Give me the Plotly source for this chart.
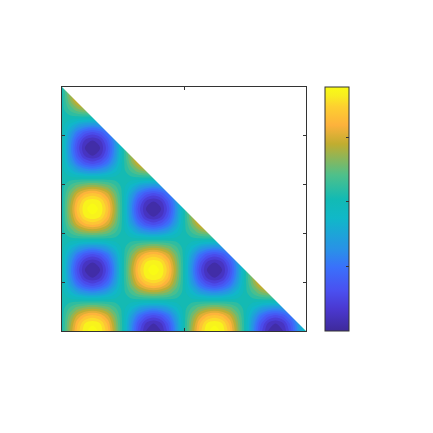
"""Triangular field with filled contours and a colorbar (no tick labels)."""

import plotly.graph_objects as go

# grid positions, eighth-cell steps
X = [0, 0.03125, 0.0625, 0.09375, 0.125, 0.15625, 0.1875, 0.21875, 0.25,
     0.28125, 0.3125, 0.34375, 0.375, 0.40625, 0.4375, 0.46875, 0.5,
     0.53125, 0.5625, 0.59375, 0.625, 0.65625, 0.6875, 0.71875, 0.75,
     0.78125, 0.8125, 0.84375, 0.875, 0.90625, 0.9375, 0.96875, 1]
Y = X

# field values: the picture repeats these rows, so each is typed once
ROW_A = [0, .34, .63, .82, .89, .82, .63, .34, 0, -.38, -.71, -.92, -1, -.92, -.71, -.38,
         0, .34, .63, .82, .89, .82, .63, .34, 0, -.38, -.71, -.92, -1, -.92, -.71, -.38, 0]
ROW_B = [0, .31, .58, .76, .82, .76, .58, .31, 0, -.35, -.65, -.85, -.92, -.85, -.65, -.35,
         0, .31, .58, .76, .82, .76, .58, .31, 0, -.35, -.65, -.85, -.92, -.85, -.65, -.35, 0]
ROW_C = [0, .24, .45, .58, .63, .58, .45, .24, 0, -.27, -.5, -.65, -.71, -.65, -.5, -.27,
         0, .24, .45, .58, .63, .58, .45, .24, 0, -.27, -.5, -.65, -.71, -.65, -.5, -.27, 0]
ROW_D = [0, .13, .24, .31, .34, .31, .24, .13, 0, -.14, -.27, -.35, -.38, -.35, -.27, -.14,
         0, .13, .24, .31, .34, .31, .24, .13, 0, -.14, -.27, -.35, -.38, -.35, -.27, -.14, 0]
ROW_E = [0] * 33
ROW_F = [0, -.14, -.27, -.35, -.38, -.35, -.27, -.14, 0, .13, .24, .31, .34, .31, .24, .13,
         0, -.14, -.27, -.35, -.38, -.35, -.27, -.14, 0, .13, .24, .31, .34, .31, .24, .13, 0]
ROW_G = [0, -.27, -.5, -.65, -.71, -.65, -.5, -.27, 0, .24, .45, .58, .63, .58, .45, .24,
         0, -.27, -.5, -.65, -.71, -.65, -.5, -.27, 0, .24, .45, .58, .63, .58, .45, .24, 0]
ROW_H = [0, -.35, -.65, -.85, -.92, -.85, -.65, -.35, 0, .31, .58, .76, .82, .76, .58, .31,
         0, -.35, -.65, -.85, -.92, -.85, -.65, -.35, 0, .31, .58, .76, .82, .76, .58, .31, 0]
ROW_I = [0, -.38, -.71, -.92, -1, -.92, -.71, -.38, 0, .34, .63, .82, .89, .82, .63, .34,
         0, -.38, -.71, -.92, -1, -.92, -.71, -.38, 0, .34, .63, .82, .89, .82, .63, .34, 0]
# bottom row first
Z = [ROW_A, ROW_B, ROW_C, ROW_D, ROW_E, ROW_F, ROW_G, ROW_H, ROW_I,
     ROW_H, ROW_G, ROW_F, ROW_E, ROW_D, ROW_C, ROW_B, ROW_A,
     ROW_B, ROW_C, ROW_D, ROW_E, ROW_F, ROW_G, ROW_H, ROW_I,
     ROW_H, ROW_G, ROW_F, ROW_E, ROW_D, ROW_C, ROW_B, ROW_A]

X_TICKS = [0, 0.5, 1]
Y_TICKS = [0, 0.2, 0.4, 0.6, 0.8, 1]
BAR_TICKS = [-0.5, 0, 0.5]
Z_MIN = -1
Z_MAX = 0.89

PARULA = [
    [0.0, "#3e2a9a"], [0.09, "#4a38d0"], [0.165, "#4a50f0"], [0.26, "#3a70fb"],
    [0.33, "#2a90e8"], [0.463, "#10b8c8"], [0.54, "#12bab4"], [0.64, "#4fc08a"],
    [0.766, "#c0ad30"], [0.844, "#fdb23c"], [0.92, "#fdd030"], [0.965, "#f8ee20"],
    [1.0, "#f9fb15"],
]

AXIS_COLOR = "#333333"

fig = go.Figure()
fig.add_trace(
    go.Contour(
        x=X,
        y=Y,
        z=Z,
        colorscale=PARULA,
        zmin=Z_MIN,
        zmax=Z_MAX,
        autocontour=False,
        contours=dict(start=Z_MIN, end=Z_MAX, size=0.08, coloring="fill", showlines=False),
        line=dict(width=0, smoothing=1),
        showscale=False,
    )
)
# white over the part above the diagonal
fig.add_trace(
    go.Scatter(
        x=[X[0], X[-1], X[-1], X[0]],
        y=[Y[-1], Y[0], Y[-1], Y[-1]],
        mode="none",
        fill="toself",
        fillcolor="white",
        hoverinfo="skip",
        showlegend=False,
    )
)
# empty trace, only there for the smooth colorbar
fig.add_trace(
    go.Scatter(
        x=[None],
        y=[None],
        mode="markers",
        hoverinfo="skip",
        showlegend=False,
        marker=dict(
            color=[Z_MIN, Z_MAX],
            cmin=Z_MIN,
            cmax=Z_MAX,
            colorscale=PARULA,
            showscale=True,
            colorbar=dict(
                x=1.078,
                xanchor="left",
                xpad=0,
                ypad=0,
                y=0,
                yanchor="bottom",
                len=1,
                thickness=24,
                outlinecolor=AXIS_COLOR,
                outlinewidth=1,
                ticks="inside",
                ticklen=3,
                tickcolor=AXIS_COLOR,
                tickvals=BAR_TICKS,
                showticklabels=False,
            ),
        ),
    )
)

axis_style = dict(
    range=[0, 1],
    showgrid=False,
    zeroline=False,
    showticklabels=False,
    ticks="inside",
    ticklen=3,
    tickcolor=AXIS_COLOR,
    showline=True,
    linecolor=AXIS_COLOR,
    linewidth=1,
    mirror="ticks",
)
fig.update_xaxes(tickvals=X_TICKS, **axis_style)
fig.update_yaxes(tickvals=Y_TICKS, **axis_style)
fig.update_layout(
    width=433,
    height=433,
    margin=dict(l=54, r=135, t=79, b=110),
    paper_bgcolor="white",
    plot_bgcolor="white",
    showlegend=False,
)
fig.write_html("out.html")
